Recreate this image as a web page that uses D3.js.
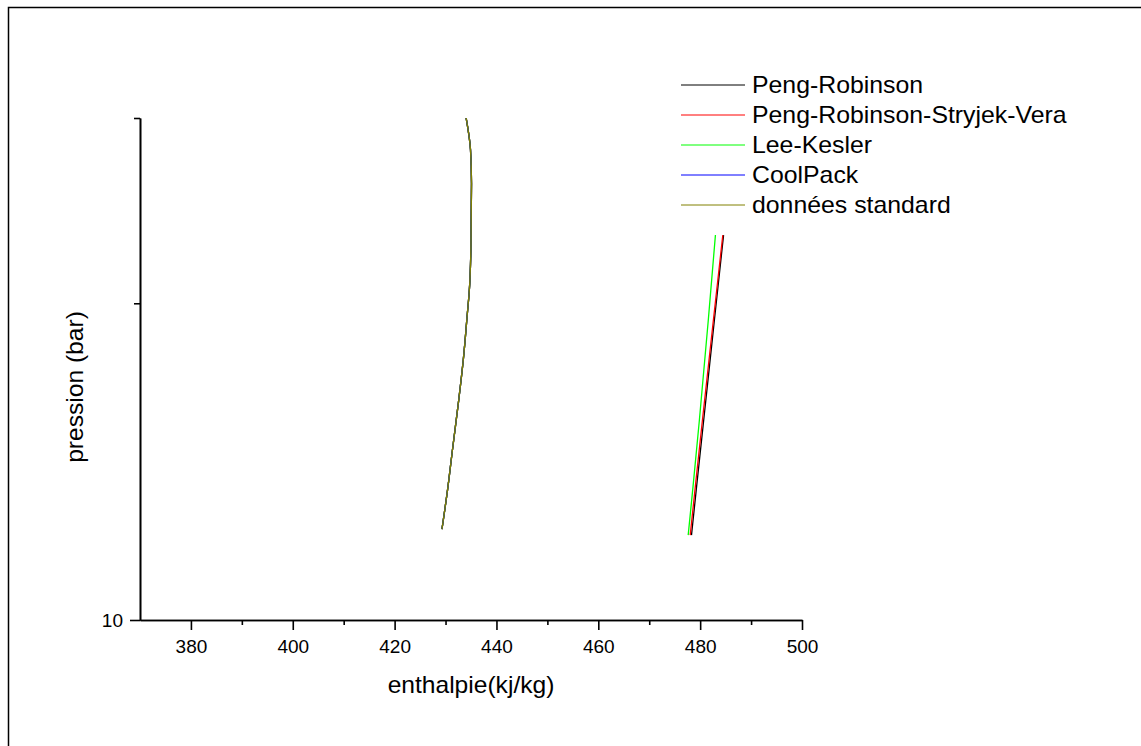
<!DOCTYPE html>
<html>
<head>
<meta charset="utf-8">
<script src="https://cdn.jsdelivr.net/npm/d3@7"></script>
<style>
  body { margin: 0; background: #fff; }
  text { font-family: Arial, "Liberation Sans", sans-serif; fill: #000; }
</style>
</head>
<body>
<svg id="chart" width="1141" height="746"></svg>
<script>
// values (pressure in bar, enthalpy in kJ/kg)
var seriesNames = ["Peng-Robinson", "Peng-Robinson-Stryjek-Vera", "Lee-Kesler", "CoolPack", "données standard"]
var seriesColors = ["#000000", "#ff0000", "#00ff00", "#0000ff", "#808000"]

// liquid side (all models lie on top of each other)
var liquidP = [12.2, 13.3, 14.5, 16.2, 17.7, 19.6, 20.5, 22.8, 26.0, 28.0, 30.0]
var liquidH_PR   = [429.3, 430.4, 431.35, 432.6, 433.5, 434.3, 434.65, 435.0, 435.1, 434.9, 434.05]
var liquidH_PRSV = [429.3, 430.4, 431.35, 432.6, 433.5, 434.3, 434.65, 435.0, 435.1, 434.9, 434.05]
var liquidH_LK   = [429.3, 430.4, 431.35, 432.6, 433.5, 434.3, 434.65, 435.0, 435.1, 434.9, 434.05]
var liquidH_CP   = [429.3, 430.4, 431.35, 432.6, 433.5, 434.3, 434.65, 435.0, 435.1, 434.9, 434.05]
var liquidH_STD  = [429.3, 430.4, 431.35, 432.6, 433.5, 434.3, 434.65, 435.0, 435.1, 434.9, 434.05]

// vapour side
var vapourP = [12.04, 13.39, 15.49, 19.28, 23.22]
var vapourH_PR   = [478.3, 479.3, 480.7, 482.8, 484.6]
var vapourH_PRSV = [478.05, 479.05, 480.45, 482.6, 484.45]
var vapourH_LK   = [477.65, 478.6, 479.85, 481.6, 483.0]

var xTicks = [380, 400, 420, 440, 460, 480, 500]
var xMinorTicks = [390, 410, 430, 450, 470, 490]
var yTicks = [10]
var yMinorTicks = [20, 30]

var svg = d3.select("#chart")

// outer frame (runs off the right and bottom)
svg.append("rect")
    .attr("x", 8.5).attr("y", 7.5)
    .attr("width", 1200).attr("height", 800)
    .attr("fill", "none")
    .attr("stroke", "#000")
    .attr("stroke-width", 1.5)

var x = d3.scaleLinear().domain([370, 500]).range([140, 802])
var y = d3.scaleLog().domain([10, 30]).range([620, 118])

var line = d3.line()
    .x(function (d) { return x(d.h) })
    .y(function (d) { return y(d.p) })
    .curve(d3.curveMonotoneY)

function pts(P, H) {
    return P.map(function (p, i) { return { p: p, h: H[i] } })
}

var curves = [
    { c: 0, d: pts(liquidP, liquidH_PR) },
    { c: 1, d: pts(liquidP, liquidH_PRSV) },
    { c: 2, d: pts(liquidP, liquidH_LK) },
    { c: 3, d: pts(liquidP, liquidH_CP) },
    { c: 4, d: pts(liquidP, liquidH_STD) },
    { c: 2, d: pts(vapourP, vapourH_LK) },
    { c: 0, d: pts(vapourP, vapourH_PR) },
    { c: 1, d: pts(vapourP, vapourH_PRSV) }
]

svg.selectAll("path.curve")
    .data(curves)
    .enter().append("path")
    .attr("class", "curve")
    .attr("d", function (d) { return line(d.d) })
    .attr("fill", "none")
    .attr("stroke", function (d) { return seriesColors[d.c] })
    .attr("stroke-width", 1.3)

// x axis
var gx = svg.append("g").attr("transform", "translate(0,620)")
gx.call(d3.axisBottom(x).tickValues(xTicks).tickSize(10).tickSizeOuter(0).tickPadding(10))
svg.append("g").attr("transform", "translate(0,620)")
    .call(d3.axisBottom(x).tickValues(xMinorTicks).tickSize(5).tickSizeOuter(0).tickFormat(""))

// y axis
var gy = svg.append("g").attr("transform", "translate(140,0)")
gy.call(d3.axisLeft(y).tickValues(yTicks).tickSize(10).tickSizeOuter(0).tickPadding(7).tickFormat(d3.format("d")))
svg.append("g").attr("transform", "translate(140,0)")
    .call(d3.axisLeft(y).tickValues(yMinorTicks).tickSize(6).tickSizeOuter(0).tickFormat(""))

svg.selectAll(".domain, .tick line")
    .attr("stroke", "#000")
    .attr("stroke-width", 1.6)
svg.selectAll(".tick text")
    .style("font-family", "Arial, 'Liberation Sans', sans-serif")
    .style("font-size", "19px")

// axis titles (text in the original is a little wide, so stretch it)
svg.append("text")
    .attr("transform", "translate(471,693) scale(1.07,1)")
    .attr("text-anchor", "middle")
    .style("font-size", "23px")
    .text("enthalpie(kj/kg)")

svg.append("text")
    .attr("transform", "translate(83,387) rotate(-90) scale(1.07,1)")
    .attr("text-anchor", "middle")
    .style("font-size", "23px")
    .text("pression (bar)")

// legend
var legend = svg.selectAll("g.legend")
    .data(seriesNames)
    .enter().append("g")
    .attr("class", "legend")
    .attr("transform", function (d, i) { return "translate(681," + (85 + i * 30) + ")" })

legend.append("line")
    .attr("x1", 0).attr("x2", 64)
    .attr("stroke", function (d, i) { return seriesColors[i] })
    .attr("stroke-width", 1)

legend.append("text")
    .attr("transform", "translate(71,0) scale(1.08,1)")
    .attr("dy", "0.35em")
    .style("font-size", "23px")
    .text(function (d) { return d })
</script>
</body>
</html>
